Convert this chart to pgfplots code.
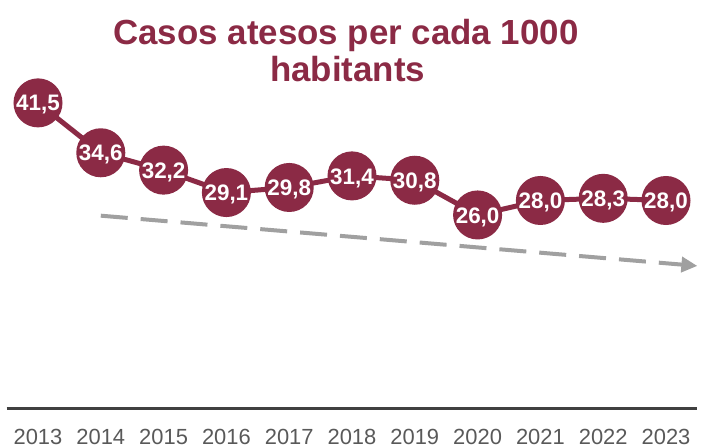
\documentclass[border=0pt]{standalone}
\usepackage{pgfplots}
\pgfplotsset{compat=1.18}
\usepackage{fontspec}
\setmainfont{Liberation Sans}
\usetikzlibrary{arrows.meta}
\definecolor{maroon}{HTML}{8B2A45}
\definecolor{trend}{HTML}{A0A0A0}
\definecolor{axisgray}{HTML}{404040}
\definecolor{tickgray}{HTML}{595959}
\begin{document}
\begin{tikzpicture}
\useasboundingbox (-6.6bp,-40bp) rectangle (694.4bp,408bp);
\begin{axis}[
  at={(0,0)}, anchor=south west,
  scale only axis, width=690.8bp, height=308bp,
  xmin=2012.5, xmax=2023.5, ymin=-0.7, ymax=41.9,
  axis y line=none, axis x line*=bottom,
  x axis line style={line width=3bp, draw=axisgray, -},
  xtick={2013,2014,2015,2016,2017,2018,2019,2020,2021,2022,2023},
  xticklabels={2013,2014,2015,2016,2017,2018,2019,2020,2021,2022,2023},
  major tick length=0pt,
  xticklabel style={font=\fontsize{22}{22}\selectfont, text=tickgray, inner sep=0pt, anchor=north, yshift=-21bp},
  clip=false,
]
\addplot[trend, line width=4bp, dash pattern=on 27bp off 13bp, -{Triangle[length=16bp,width=15bp]}]
  coordinates {(2014,25.9) (2023.5,18.95)};
\addplot[maroon, line width=5bp, mark=*, mark size=22bp,
  mark options={fill=maroon, draw=maroon, solid},
  point meta=explicit symbolic, nodes near coords,
  every node near coord/.append style={anchor=center, text=white, yshift=-2bp,
    font=\bfseries\fontsize{22.5}{22.5}\selectfont, inner sep=0pt}]
  coordinates {
  (2013,41.5) [41,5]
  (2014,34.6) [34,6]
  (2015,32.2) [32,2]
  (2016,29.1) [29,1]
  (2017,29.8) [29,8]
  (2018,31.4) [31,4]
  (2019,30.8) [30,8]
  (2020,26.0) [26,0]
  (2021,28.0) [28,0]
  (2022,28.3) [28,3]
  (2023,28.0) [28,0]
  };
\end{axis}
\node[anchor=base, text=maroon, font=\bfseries\fontsize{35}{35}\selectfont, inner sep=0pt] at (339.4bp,363bp) {Casos atesos per cada 1000};
\node[anchor=base, text=maroon, font=\bfseries\fontsize{35}{35}\selectfont, inner sep=0pt] at (341bp,326bp) {habitants};
\end{tikzpicture}
\end{document}
